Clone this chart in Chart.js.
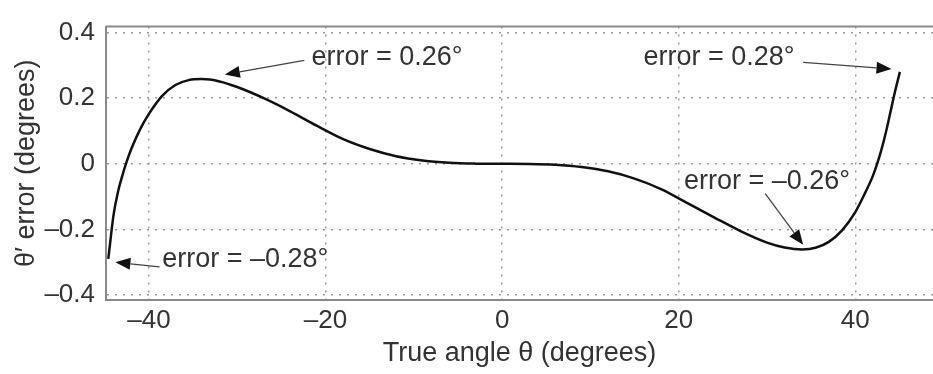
<!DOCTYPE html>
<html lang="en">
<head>
    <meta charset="UTF-8">
    <title>Angle error</title>
    <script src="https://cdn.jsdelivr.net/npm/chart.js"></script>
    <style>
        html, body { margin: 0; padding: 0; background: #fff; overflow: hidden; }
        .wrap { width: 933px; height: 374px; }
    </style>
</head>
<body>
    <div class="wrap"><canvas id="errChart" width="933" height="374"></canvas></div>
    <script>
        // values
        const trueAngle = [-44.6, -44.0, -43.5, -43.0, -42.5, -42.0, -41.0, -40.0, -38.5, -37.0,
            -35.5, -34.0, -32.0, -30.0, -27.0, -24.0, -21.0, -18.0, -15.0, -12.0,
            -9.0, -6.0, -3.0, 0, 3.0, 6.0, 9.0, 12.0, 15.0, 18.0,
            21.0, 24.0, 27.0, 30.0, 32.0, 34.0, 35.5, 37.0, 38.5, 40.0,
            41.0, 42.0, 42.5, 43.0, 43.5, 44.0, 44.5, 45.05];
        const angleError = [-0.29, -0.155, -0.085, -0.035, 0.008, 0.045, 0.105, 0.152, 0.207, 0.240,
            0.255, 0.258, 0.251, 0.234, 0.200, 0.160, 0.116, 0.075, 0.045, 0.023,
            0.010, 0.003, 0.0005, 0, -0.0005, -0.003, -0.010, -0.023, -0.045, -0.077,
            -0.120, -0.163, -0.205, -0.240, -0.255, -0.261, -0.256, -0.238, -0.203, -0.147,
            -0.095, -0.036, 0.002, 0.047, 0.10, 0.16, 0.22, 0.28];

        // callouts: label anchor, arrow tail, arrow tip (data units)
        const callouts = [
            { text: 'error = 0.26\u00B0', tx: -21.6, ty: 0.324, ax: -22.4, ay: 0.315, bx: -31.4, by: 0.272 },
            { text: 'error = 0.28\u00B0', tx: 16.0, ty: 0.324, ax: 34.1, ay: 0.309, bx: 44.1, by: 0.289 },
            { text: 'error = \u20130.28\u00B0', tx: -38.5, ty: -0.291, ax: -38.8, ay: -0.314, bx: -43.8, by: -0.30 },
            { text: 'error = \u20130.26\u00B0', tx: 20.6, ty: -0.053, ax: 29.8, ay: -0.091, bx: 34.1, by: -0.247 }
        ];

        const FONT = 'Liberation Sans, Arial, Helvetica, sans-serif';
        const TEXT = '#333';
        const FRAME = '#8a8a8a';

        const dash = v => (v < 0 ? '\u2013' + Math.abs(v) : String(v));

        const calloutPlugin = {
            id: 'callouts',
            afterDatasetsDraw(chart) {
                const ctx = chart.ctx;
                const xs = chart.scales.x, ys = chart.scales.y;
                const a = chart.chartArea;
                ctx.save();
                // frame: top edge (left and bottom come from the axes)
                ctx.strokeStyle = FRAME;
                ctx.lineWidth = 2;
                ctx.beginPath();
                ctx.moveTo(a.left, a.top);
                ctx.lineTo(a.right, a.top);
                ctx.stroke();

                ctx.font = '27px ' + FONT;
                ctx.fillStyle = TEXT;
                ctx.textBaseline = 'middle';
                callouts.forEach(c => {
                    ctx.fillText(c.text, xs.getPixelForValue(c.tx), ys.getPixelForValue(c.ty));
                    const x1 = xs.getPixelForValue(c.ax), y1 = ys.getPixelForValue(c.ay);
                    const x2 = xs.getPixelForValue(c.bx), y2 = ys.getPixelForValue(c.by);
                    const ang = Math.atan2(y2 - y1, x2 - x1);
                    const len = 15, half = 6;
                    ctx.strokeStyle = '#444';
                    ctx.lineWidth = 1.3;
                    ctx.beginPath();
                    ctx.moveTo(x1, y1);
                    ctx.lineTo(x2 - len * Math.cos(ang), y2 - len * Math.sin(ang));
                    ctx.stroke();
                    ctx.fillStyle = '#111';
                    ctx.beginPath();
                    ctx.moveTo(x2, y2);
                    ctx.lineTo(x2 - len * Math.cos(ang) + half * Math.sin(ang), y2 - len * Math.sin(ang) - half * Math.cos(ang));
                    ctx.lineTo(x2 - len * Math.cos(ang) - half * Math.sin(ang), y2 - len * Math.sin(ang) + half * Math.cos(ang));
                    ctx.closePath();
                    ctx.fill();
                    ctx.fillStyle = TEXT;
                });
                ctx.restore();
            }
        };

        new Chart(document.getElementById('errChart'), {
            type: 'scatter',
            data: {
                datasets: [{
                    data: trueAngle.map((x, i) => ({ x: x, y: angleError[i] })),
                    showLine: true,
                    borderColor: '#111',
                    borderWidth: 2.5,
                    pointRadius: 0,
                    cubicInterpolationMode: 'monotone'
                }]
            },
            options: {
                responsive: false,
                animation: false,
                events: [],
                layout: { padding: { top: 13, right: 0, bottom: 0, left: 0 } },
                plugins: { legend: { display: false }, tooltip: { enabled: false } },
                scales: {
                    x: {
                        type: 'linear',
                        min: -44.86,
                        max: 48.8,
                        afterFit: s => { s.height = 74; },
                        ticks: {
                            stepSize: 20,
                            includeBounds: false,
                            padding: 5,
                            color: TEXT,
                            font: { family: FONT, size: 26 },
                            maxRotation: 0,
                            callback: v => dash(v)
                        },
                        grid: { color: '#9a9a9a', lineWidth: 1.5, drawTicks: false },
                        border: { display: true, color: FRAME, width: 2, dash: [2, 6] },
                        title: {
                            display: true,
                            text: 'True angle \u03B8 (degrees)',
                            color: TEXT,
                            font: { family: FONT, size: 27 },
                            padding: { top: 0, bottom: 4 }
                        }
                    },
                    y: {
                        min: -0.415,
                        max: 0.418,
                        afterFit: s => { s.width = 106; },
                        ticks: {
                            stepSize: 0.2,
                            includeBounds: false,
                            padding: 11,
                            color: TEXT,
                            font: { family: FONT, size: 26 },
                            callback: v => dash(Math.round(v * 10) / 10)
                        },
                        grid: { color: '#9a9a9a', lineWidth: 1.5, drawTicks: false },
                        border: { display: true, color: FRAME, width: 2, dash: [2, 6] },
                        title: {
                            display: true,
                            text: '\u03B8\u2032 error (degrees)',
                            color: TEXT,
                            font: { family: FONT, size: 27 },
                            padding: { top: 10, bottom: 0 }
                        }
                    }
                }
            },
            plugins: [calloutPlugin]
        });
    </script>
</body>
</html>
